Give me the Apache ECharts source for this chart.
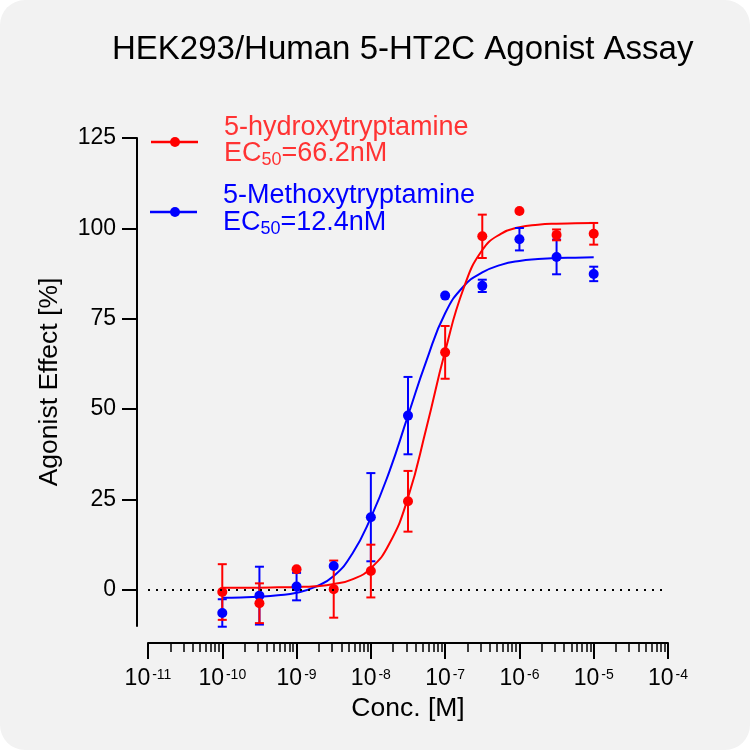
<!DOCTYPE html>
<html>
<head>
<meta charset="utf-8">
<script src="https://cdn.jsdelivr.net/npm/echarts@6/dist/echarts.min.js"></script>
<style>
  html, body { margin: 0; padding: 0; background: #fff; }
  #main { width: 750px; height: 750px; background: #f2f2f2; border-radius: 25px; overflow: hidden; }
</style>
</head>
<body>
<div id="main"></div>
<script>
// log10 of concentration [M], half-log dilution steps
var logConc = [-10, -9.5, -9, -8.5, -8, -7.5, -7, -6.5, -6, -5.5, -5];

// 5-hydroxytryptamine: mean and error (%)
var htMean = [-0.6, -3.7, 5.7, 0.2, 5.2, 24.5, 65.7, 97.8, 104.8, 98.2, 98.5];
var htErr  = [7.7, 5.5, 0, 7.9, 7.3, 8.4, 7.3, 6.0, 0, 1.5, 3.0];

// 5-Methoxytryptamine: mean and error (%)
var moMean = [-6.4, -1.6, 0.9, 6.6, 20.1, 48.2, 81.4, 84.1, 97.0, 92.1, 87.4];
var moErr  = [3.8, 8.0, 3.8, 0, 12.2, 10.7, 0, 1.7, 3.1, 4.8, 2.0];

// fitted curves
var fitLogX = [-10, -9.75, -9.5, -9.25, -9, -8.75, -8.5, -8.25, -8, -7.75, -7.5,
               -7.25, -7, -6.75, -6.5, -6.25, -6, -5.75, -5.5, -5.25, -5];
var htFit = [0.6, 0.6, 0.6, 0.7, 0.8, 1.0, 1.6, 2.9, 6.0, 12.8, 25.5,
             45.0, 66.0, 83.5, 94.0, 98.5, 100.3, 101.0, 101.3, 101.4, 101.5];
var moFit = [-2.2, -2.1, -1.9, -1.5, -0.8, 0.8, 3.8, 10.0, 20.0, 32.8, 48.2,
             63.5, 76.5, 84.0, 87.8, 89.9, 91.0, 91.5, 91.8, 91.9, 92.0];

var yTicks = [0, 25, 50, 75, 100, 125];

var RED = '#ff0000';
var BLUE = '#0000ff';
var FONT = 'Liberation Sans';

// log minor ticks 2..9 inside every decade
var minorTicks = [];
for (var n = -11; n < -4; n++) {
  for (var k = 2; k <= 9; k++) minorTicks.push(n + Math.log10(k));
}

function errBars(mean, err, color) {
  return {
    type: 'custom',
    z: 3,
    data: logConc.map(function (x, i) { return [x, mean[i] - err[i], mean[i] + err[i], err[i]]; }),
    encode: { x: 0, y: [1, 2] },
    renderItem: function (params, api) {
      if (!api.value(3)) return null;
      var lo = api.coord([api.value(0), api.value(1)]);
      var hi = api.coord([api.value(0), api.value(2)]);
      var w = 4.5;
      var st = { stroke: color, lineWidth: 2, fill: null };
      return {
        type: 'group',
        children: [
          { type: 'line', shape: { x1: lo[0], y1: lo[1], x2: hi[0], y2: hi[1] }, style: st },
          { type: 'line', shape: { x1: lo[0] - w, y1: lo[1], x2: lo[0] + w, y2: lo[1] }, style: st },
          { type: 'line', shape: { x1: hi[0] - w, y1: hi[1], x2: hi[0] + w, y2: hi[1] }, style: st }
        ]
      };
    }
  };
}

function points(mean, color) {
  return {
    type: 'scatter',
    z: 4,
    symbol: 'circle',
    symbolSize: 10,
    itemStyle: { color: color, opacity: 1 },
    data: logConc.map(function (x, i) { return [x, mean[i]]; })
  };
}

function curve(fit, color) {
  return {
    type: 'line',
    z: 2,
    smooth: 0.5,
    showSymbol: false,
    lineStyle: { color: color, width: 2 },
    itemStyle: { color: color },
    data: fitLogX.map(function (x, i) { return [x, fit[i]]; })
  };
}

var myChart = echarts.init(document.getElementById('main'), null, { renderer: 'canvas' });

var option = {
  animation: false,
  backgroundColor: 'transparent',
  textStyle: { fontFamily: FONT },
  title: {
    text: 'HEK293/Human 5-HT2C Agonist Assay',
    left: 112,
    top: 33,
    padding: 0,
    textStyle: { fontSize: 33, fontWeight: 'normal', color: '#000', fontFamily: FONT }
  },
  grid: { left: 148, top: 138, width: 520, height: 488, outerBoundsMode: 'none' },
  xAxis: [
    {
      type: 'value', min: -11, max: -4, interval: 1,
      position: 'bottom', offset: 17,
      axisLine: { onZero: false, lineStyle: { color: '#000', width: 2 } },
      axisTick: { length: 16, lineStyle: { color: '#000', width: 2 } },
      splitLine: { show: false },
      axisLabel: {
        margin: 23,
        formatter: function (v) { return '{b|10}{s|' + v + '}'; },
        rich: {
          b: { fontSize: 23, color: '#000', fontFamily: FONT, lineHeight: 26 },
          s: { fontSize: 14, color: '#000', fontFamily: FONT, lineHeight: 14,
               verticalAlign: 'top', padding: [2, 0, 0, 2] }
        }
      },
      name: 'Conc. [M]',
      nameLocation: 'middle',
      nameGap: 48,
      nameTextStyle: { fontSize: 26.5, color: '#000', fontFamily: FONT }
    },
    {
      type: 'value', min: -11, max: -4,
      position: 'bottom', offset: 17,
      axisLine: { show: false, onZero: false },
      axisLabel: { show: false },
      splitLine: { show: false },
      axisTick: { show: true, length: 9, customValues: minorTicks,
                  lineStyle: { color: '#000', width: 1.5 } }
    }
  ],
  yAxis: {
    type: 'value', min: -10, max: 125,
    offset: 11,
    axisLine: { show: true, onZero: false, lineStyle: { color: '#000', width: 2 } },
    axisTick: { show: true, length: 15, customValues: yTicks, lineStyle: { color: '#000', width: 2 } },
    axisLabel: { customValues: yTicks, fontSize: 23, color: '#000', margin: 21, fontFamily: FONT },
    splitLine: { show: false },
    name: 'Agonist Effect [%]',
    nameLocation: 'middle',
    nameRotate: 90,
    nameGap: 74,
    nameTextStyle: { fontSize: 26.5, color: '#000', fontFamily: FONT }
  },
  graphic: [
    { type: 'line', shape: { x1: 151, y1: 142, x2: 198, y2: 142 }, style: { stroke: RED, lineWidth: 2.5 } },
    { type: 'circle', shape: { cx: 175, cy: 142, r: 5 }, style: { fill: RED } },
    { type: 'text', x: 224, y: 128,
      style: { text: '5-hydroxytryptamine', fill: '#ff3333', fontSize: 27, fontFamily: FONT, verticalAlign: 'middle' } },
    { type: 'text', x: 224, y: 154,
      style: { text: '{n|EC}{d|50}{n|=66.2nM}', fill: '#ff3333', verticalAlign: 'middle',
               rich: { n: { fontSize: 27, fontFamily: FONT, lineHeight: 30 },
                       d: { fontSize: 18, fontFamily: FONT, lineHeight: 18, verticalAlign: 'bottom' } } } },
    { type: 'line', shape: { x1: 150, y1: 212, x2: 197, y2: 212 }, style: { stroke: BLUE, lineWidth: 2.5 } },
    { type: 'circle', shape: { cx: 175, cy: 212, r: 5 }, style: { fill: BLUE } },
    { type: 'text', x: 223, y: 196,
      style: { text: '5-Methoxytryptamine', fill: BLUE, fontSize: 27, fontFamily: FONT, verticalAlign: 'middle' } },
    { type: 'text', x: 223, y: 223,
      style: { text: '{n|EC}{d|50}{n|=12.4nM}', fill: BLUE, verticalAlign: 'middle',
               rich: { n: { fontSize: 27, fontFamily: FONT, lineHeight: 30 },
                       d: { fontSize: 18, fontFamily: FONT, lineHeight: 18, verticalAlign: 'bottom' } } } }
  ],
  series: [
    Object.assign(curve(moFit, BLUE), {
      markLine: {
        silent: true,
        symbol: 'none',
        label: { show: false },
        lineStyle: { color: '#000', width: 2, type: [2, 6] },
        data: [{ yAxis: 0 }]
      }
    }),
    curve(htFit, RED),
    errBars(moMean, moErr, BLUE),
    points(moMean, BLUE),
    errBars(htMean, htErr, RED),
    points(htMean, RED)
  ]
};

myChart.setOption(option);
window.onresize = myChart.resize;
</script>
</body>
</html>
